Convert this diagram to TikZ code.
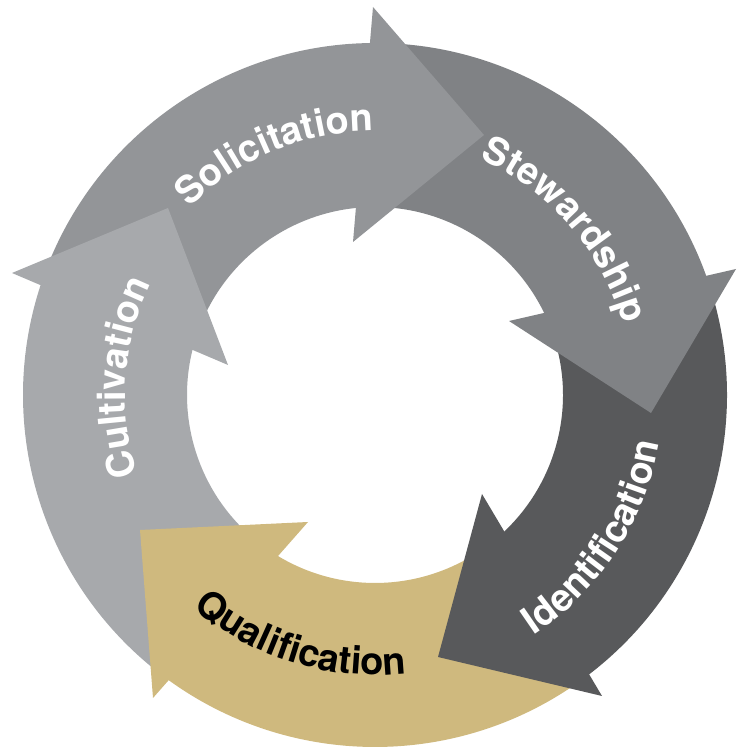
\documentclass[tikz,border=0pt]{standalone}
\usepackage{fontspec}
\setmainfont{TeX Gyre Heros}
\usetikzlibrary{decorations.text}
\definecolor{cultc}{HTML}{A7A9AC}
\definecolor{solic}{HTML}{939598}
\definecolor{stewc}{HTML}{808285}
\definecolor{idenc}{HTML}{58595B}
\definecolor{qualc}{HTML}{CFB97E}
\newcommand{\lblfont}{\bfseries\fontsize{38}{38}\selectfont}
\newcommand{\ringband}[3]{\fill[#1] (#2:352) arc[start angle=#2, end angle=#3, radius=352pt] -- (#3:188) arc[start angle=#3, end angle=#2, radius=188pt] -- cycle;}
\tikzset{
  arctext/.style={decorate, decoration={text along path, text align=center, text color=#1}},
  headtri/.style={fill=#1}
}
\begin{document}
\begin{tikzpicture}[x=1pt,y=1pt]
\useasboundingbox (0,0) rectangle (736,749);
\coordinate (c) at (375,354);
\begin{scope}[shift={(c)}]
  % ring bands
  \ringband{cultc}{231.3}{158.9}
  \ringband{solic}{158.9}{87.8}
  \ringband{stewc}{87.8}{16.7}
  \ringband{idenc}{16.7}{-55.5}
  \ringband{qualc}{-55.5}{-128.7}
  % arrow heads
  \fill[headtri=cultc] (-363,122) -- (-207,187) -- (-147,30) -- cycle;
  \fill[headtri=solic] (-2,388) -- (109,260) -- (-22,153) -- cycle;
  \fill[headtri=stewc] (361,126) -- (276,-18) -- (134,74) -- cycle;
  \fill[headtri=idenc] (227,-301) -- (63,-262) -- (107,-99) -- cycle;
  \fill[headtri=qualc] (-222,-303) -- (-235,-135) -- (-67,-127) -- cycle;
  % labels
  \path[arctext=white, decoration={text={|\lblfont|Cultivation}}] (215:250) arc[start angle=215, end angle=137, radius=250pt];
  \path[arctext=white, decoration={text={|\lblfont|Solicitation}}] (150:264) arc[start angle=150, end angle=75, radius=264pt];
  \path[arctext=white, decoration={text={|\lblfont|Stewardship}}] (80:258) arc[start angle=80, end angle=2, radius=258pt];
  \path[arctext=white, decoration={text={|\lblfont|Identification}}] (-72:288) arc[start angle=-72, end angle=6, radius=288pt];
  \path[arctext=black, decoration={text={|\lblfont|Qualification}}] (-147:280) arc[start angle=-147, end angle=-67, radius=280pt];
\end{scope}
\end{tikzpicture}
\end{document}
